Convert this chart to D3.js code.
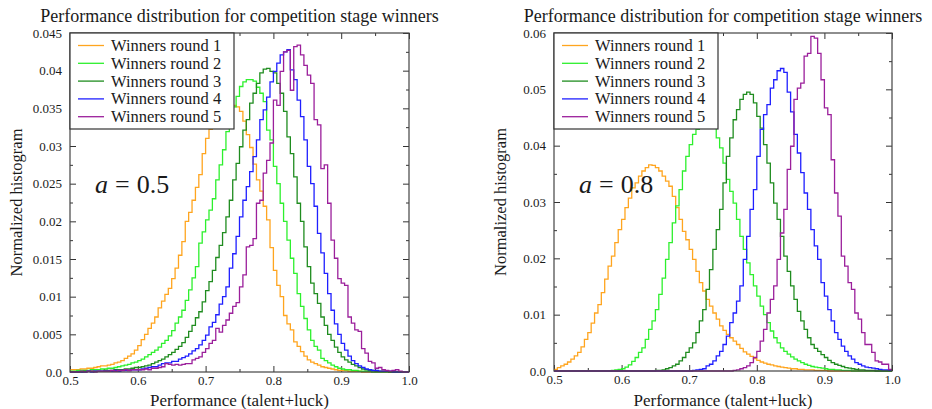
<!DOCTYPE html>
<html>
<head>
<meta charset="utf-8">
<script src="https://d3js.org/d3.v7.min.js"></script>
<style>
  body { margin: 0; background: #fff; }
  text { font-family: "Liberation Serif", "Times New Roman", serif; fill: #1a1a1a; }
</style>
</head>
<body>
<div id="my_dataviz"></div>
<script>

// ---- data (normalized histogram, 100 bins of width 0.005 from 0.5 to 1.0) ----
var seriesNames = ["Winners round 1", "Winners round 2", "Winners round 3", "Winners round 4", "Winners round 5"]
var seriesColors = ["#ffa51f", "#2df02d", "#1f8c1f", "#1f1fff", "#9b1f9b"]

var xTickValues = [0.5, 0.6, 0.7, 0.8, 0.9, 1.0]
var xTickLabels = ["0.5", "0.6", "0.7", "0.8", "0.9", "1.0"]
var yTickValuesA = [0, 0.005, 0.01, 0.015, 0.02, 0.025, 0.03, 0.035, 0.04, 0.045]
var yTickLabelsA = ["0.0", "0.005", "0.01", "0.015", "0.02", "0.025", "0.03", "0.035", "0.04", "0.045"]
var yTickValuesB = [0, 0.01, 0.02, 0.03, 0.04, 0.05, 0.06]
var yTickLabelsB = ["0.0", "0.01", "0.02", "0.03", "0.04", "0.05", "0.06"]

// a = 0.5
var a05_round1 = [
  0.0003, 0.0003, 0.0003, 0.0004, 0.0004, 0.0005, 0.0005, 0.0006, 0.0007, 0.0008,
  0.0008, 0.0009, 0.0010, 0.0012, 0.0013, 0.0015, 0.0018, 0.0021, 0.0024, 0.0029,
  0.0035, 0.0043, 0.0050, 0.0058, 0.0065, 0.0073, 0.0085, 0.0094, 0.0103, 0.0111,
  0.0124, 0.0138, 0.0155, 0.0173, 0.0200, 0.0212, 0.0228, 0.0245, 0.0262, 0.0290,
  0.0310, 0.0322, 0.0332, 0.0342, 0.0350, 0.0355, 0.0358, 0.0356, 0.0354, 0.0352,
  0.0346, 0.0333, 0.0315, 0.0298, 0.0276, 0.0255, 0.0240, 0.0220, 0.0202, 0.0165,
  0.0135, 0.0115, 0.0100, 0.0075, 0.0064, 0.0056, 0.0040, 0.0034, 0.0027, 0.0021,
  0.0016, 0.0013, 0.0011, 0.0009, 0.0007, 0.0006, 0.0005, 0.0004, 0.0003, 0.0002,
  0.0002, 0.0002, 0.0001, 0.0001, 0.0001, 0.0001, 0, 0, 0, 0,
  0, 0, 0, 0, 0, 0, 0, 0, 0, 0]
var a05_round2 = [
  0.0001, 0.0001, 0.0002, 0.0002, 0.0002, 0.0002, 0.0003, 0.0003, 0.0003, 0.0004,
  0.0004, 0.0005, 0.0005, 0.0006, 0.0007, 0.0008, 0.0009, 0.0010, 0.0012, 0.0013,
  0.0015, 0.0017, 0.0020, 0.0023, 0.0026, 0.0029, 0.0033, 0.0038, 0.0042, 0.0048,
  0.0055, 0.0065, 0.0073, 0.0082, 0.0095, 0.0109, 0.0125, 0.0140, 0.0171, 0.0186,
  0.0202, 0.0215, 0.0230, 0.0255, 0.0275, 0.0295, 0.0319, 0.0339, 0.0352, 0.0366,
  0.0379, 0.0385, 0.0388, 0.0388, 0.0386, 0.0378, 0.0370, 0.0359, 0.0321, 0.0308,
  0.0273, 0.0250, 0.0224, 0.0200, 0.0175, 0.0151, 0.0131, 0.0104, 0.0087, 0.0071,
  0.0056, 0.0042, 0.0034, 0.0029, 0.0018, 0.0015, 0.0012, 0.0009, 0.0007, 0.0005,
  0.0004, 0.0003, 0.0003, 0.0002, 0.0002, 0.0001, 0.0001, 0.0001, 0.0001, 0,
  0, 0, 0, 0, 0, 0, 0, 0, 0, 0]
var a05_round3 = [
  0, 0, 0, 0, 0.0001, 0.0001, 0.0001, 0.0001, 0.0001, 0.0001,
  0.0002, 0.0002, 0.0002, 0.0003, 0.0003, 0.0003, 0.0004, 0.0004, 0.0005, 0.0006,
  0.0006, 0.0007, 0.0008, 0.0009, 0.0011, 0.0013, 0.0015, 0.0017, 0.0020, 0.0023,
  0.0026, 0.0030, 0.0034, 0.0039, 0.0046, 0.0054, 0.0062, 0.0072, 0.0080, 0.0093,
  0.0108, 0.0120, 0.0135, 0.0152, 0.0168, 0.0185, 0.0206, 0.0228, 0.0255, 0.0277,
  0.0299, 0.0321, 0.0335, 0.0357, 0.0370, 0.0383, 0.0397, 0.0402, 0.0403, 0.0399,
  0.0397, 0.0383, 0.0370, 0.0346, 0.0312, 0.0290, 0.0259, 0.0224, 0.0200, 0.0166,
  0.0140, 0.0118, 0.0104, 0.0091, 0.0073, 0.0062, 0.0050, 0.0042, 0.0033, 0.0026,
  0.0020, 0.0016, 0.0013, 0.0010, 0.0008, 0.0006, 0.0004, 0.0003, 0.0002, 0.0002,
  0.0001, 0.0001, 0.0001, 0.0001, 0, 0, 0, 0, 0, 0]
var a05_round4 = [
  0, 0, 0, 0, 0, 0.0001, 0, 0.0001, 0.0001, 0.0001,
  0.0001, 0.0001, 0.0001, 0.0002, 0.0001, 0.0002, 0.0002, 0.0002, 0.0003, 0.0003,
  0.0003, 0.0004, 0.0005, 0.0006, 0.0007, 0.0007, 0.0009, 0.0011, 0.0012, 0.0012,
  0.0014, 0.0014, 0.0017, 0.0019, 0.0021, 0.0024, 0.0028, 0.0031, 0.0036, 0.0042,
  0.0049, 0.0060, 0.0066, 0.0076, 0.0090, 0.0100, 0.0113, 0.0138, 0.0157, 0.0180,
  0.0206, 0.0228, 0.0246, 0.0266, 0.0286, 0.0308, 0.0335, 0.0348, 0.0365, 0.0385,
  0.0399, 0.0410, 0.0421, 0.0425, 0.0428, 0.0401, 0.0388, 0.0361, 0.0339, 0.0308,
  0.0273, 0.0250, 0.0220, 0.0184, 0.0158, 0.0131, 0.0104, 0.0082, 0.0064, 0.0050,
  0.0038, 0.0029, 0.0021, 0.0015, 0.0011, 0.0008, 0.0006, 0.0004, 0.0003, 0.0002,
  0.0002, 0.0001, 0.0001, 0.0001, 0.0001, 0, 0, 0, 0, 0]
var a05_round5 = [
  0, 0, 0, 0.0001, 0, 0.0001, 0.0001, 0, 0.0001, 0.0001,
  0.0001, 0.0001, 0.0002, 0.0001, 0.0002, 0.0002, 0.0003, 0.0002, 0.0003, 0.0003,
  0.0003, 0.0003, 0.0004, 0.0003, 0.0005, 0.0005, 0.0006, 0.0007, 0.0011, 0.0010,
  0.0009, 0.0010, 0.0009, 0.0010, 0.0011, 0.0011, 0.0016, 0.0018, 0.0020, 0.0026,
  0.0031, 0.0038, 0.0042, 0.0058, 0.0053, 0.0062, 0.0069, 0.0078, 0.0087, 0.0092,
  0.0113, 0.0129, 0.0166, 0.0168, 0.0177, 0.0224, 0.0228, 0.0264, 0.0281, 0.0304,
  0.0361, 0.0354, 0.0399, 0.0425, 0.0427, 0.0374, 0.0432, 0.0434, 0.0421, 0.0407,
  0.0394, 0.0383, 0.0335, 0.0328, 0.0270, 0.0275, 0.0224, 0.0175, 0.0151, 0.0124,
  0.0118, 0.0115, 0.0073, 0.0065, 0.0056, 0.0054, 0.0031, 0.0025, 0.0014, 0.0012,
  0.0005, 0.0006, 0.0003, 0.0002, 0.0001, 0.0002, 0.0003, 0.0001, 0, 0]

// a = 0.8
var a08_round1 = [
  0.0003, 0.0006, 0.0009, 0.0012, 0.0016, 0.0021, 0.0027, 0.0033, 0.0043, 0.0056,
  0.0068, 0.0085, 0.0103, 0.0118, 0.0139, 0.0163, 0.0186, 0.0204, 0.0228, 0.0251,
  0.0269, 0.0290, 0.0307, 0.0325, 0.0334, 0.0346, 0.0355, 0.0361, 0.0366, 0.0365,
  0.0361, 0.0355, 0.0346, 0.0337, 0.0328, 0.0310, 0.0290, 0.0269, 0.0248, 0.0233,
  0.0216, 0.0198, 0.0177, 0.0157, 0.0142, 0.0127, 0.0115, 0.0103, 0.0092, 0.0080,
  0.0072, 0.0065, 0.0059, 0.0053, 0.0047, 0.0040, 0.0034, 0.0030, 0.0026, 0.0022,
  0.0019, 0.0016, 0.0014, 0.0012, 0.0011, 0.0009, 0.0008, 0.0007, 0.0006, 0.0005,
  0.0004, 0.0004, 0.0003, 0.0003, 0.0002, 0.0002, 0.0002, 0.0001, 0.0001, 0.0001,
  0.0001, 0, 0, 0, 0, 0, 0, 0, 0, 0,
  0, 0, 0, 0, 0, 0, 0, 0, 0, 0]
var a08_round2 = [
  0, 0, 0, 0, 0, 0, 0, 0, 0, 0,
  0, 0, 0, 0, 0, 0, 0, 0.0001, 0.0002, 0.0003,
  0.0004, 0.0007, 0.0011, 0.0017, 0.0024, 0.0033, 0.0041, 0.0056, 0.0074, 0.0089,
  0.0109, 0.0136, 0.0165, 0.0198, 0.0228, 0.0263, 0.0293, 0.0322, 0.0355, 0.0381,
  0.0402, 0.0420, 0.0429, 0.0438, 0.0443, 0.0441, 0.0436, 0.0431, 0.0414, 0.0396,
  0.0369, 0.0340, 0.0319, 0.0298, 0.0269, 0.0239, 0.0216, 0.0192, 0.0171, 0.0151,
  0.0133, 0.0115, 0.0100, 0.0086, 0.0071, 0.0059, 0.0050, 0.0041, 0.0035, 0.0030,
  0.0025, 0.0021, 0.0018, 0.0015, 0.0012, 0.0010, 0.0008, 0.0007, 0.0006, 0.0005,
  0.0004, 0.0003, 0.0003, 0.0002, 0.0002, 0.0001, 0.0001, 0.0001, 0, 0,
  0, 0, 0, 0, 0, 0, 0, 0, 0, 0]
var a08_round3 = [
  0, 0, 0, 0, 0, 0, 0, 0, 0, 0,
  0, 0, 0, 0, 0, 0, 0, 0, 0, 0,
  0, 0, 0, 0, 0, 0, 0, 0, 0, 0,
  0.0001, 0.0001, 0.0002, 0.0004, 0.0006, 0.0009, 0.0012, 0.0018, 0.0024, 0.0033,
  0.0041, 0.0050, 0.0068, 0.0089, 0.0109, 0.0145, 0.0180, 0.0216, 0.0251, 0.0287,
  0.0334, 0.0381, 0.0414, 0.0446, 0.0464, 0.0482, 0.0491, 0.0495, 0.0491, 0.0476,
  0.0452, 0.0431, 0.0402, 0.0369, 0.0334, 0.0298, 0.0269, 0.0239, 0.0204, 0.0177,
  0.0151, 0.0127, 0.0106, 0.0089, 0.0074, 0.0059, 0.0047, 0.0040, 0.0035, 0.0029,
  0.0024, 0.0019, 0.0015, 0.0012, 0.0010, 0.0008, 0.0006, 0.0005, 0.0004, 0.0003,
  0.0002, 0.0002, 0.0001, 0.0001, 0.0001, 0, 0, 0, 0, 0]
var a08_round4 = [
  0, 0, 0, 0, 0, 0, 0, 0, 0, 0,
  0, 0, 0, 0, 0, 0, 0, 0, 0, 0,
  0, 0, 0, 0, 0, 0, 0, 0, 0, 0,
  0, 0, 0, 0, 0, 0, 0, 0, 0, 0,
  0, 0.0001, 0.0002, 0.0003, 0.0004, 0.0009, 0.0012, 0.0018, 0.0027, 0.0035,
  0.0047, 0.0062, 0.0086, 0.0103, 0.0124, 0.0151, 0.0198, 0.0239, 0.0287, 0.0322,
  0.0381, 0.0429, 0.0455, 0.0473, 0.0502, 0.0517, 0.0533, 0.0537, 0.0530, 0.0495,
  0.0460, 0.0420, 0.0387, 0.0352, 0.0316, 0.0287, 0.0251, 0.0222, 0.0198, 0.0157,
  0.0133, 0.0109, 0.0089, 0.0068, 0.0056, 0.0044, 0.0035, 0.0027, 0.0021, 0.0015,
  0.0012, 0.0009, 0.0007, 0.0006, 0.0005, 0.0004, 0.0003, 0.0002, 0.0002, 0.0001]
var a08_round5 = [
  0, 0, 0, 0, 0, 0, 0, 0, 0, 0,
  0, 0, 0, 0, 0, 0, 0, 0, 0, 0,
  0, 0, 0, 0, 0, 0, 0, 0, 0, 0,
  0, 0, 0, 0, 0, 0, 0, 0, 0, 0,
  0, 0, 0, 0, 0, 0, 0, 0, 0, 0,
  0, 0, 0, 0.0001, 0.0002, 0.0004, 0.0006, 0.0009, 0.0015, 0.0024,
  0.0035, 0.0053, 0.0074, 0.0103, 0.0127, 0.0151, 0.0198, 0.0245, 0.0287, 0.0358,
  0.0399, 0.0482, 0.0502, 0.0511, 0.0559, 0.0564, 0.0594, 0.0591, 0.0564, 0.0517,
  0.0467, 0.0455, 0.0375, 0.0316, 0.0275, 0.0204, 0.0186, 0.0157, 0.0145, 0.0103,
  0.0092, 0.0068, 0.0047, 0.0047, 0.0033, 0.0018, 0.0016, 0.0012, 0.0012, 0.0003]

// bin left edges
var binLefts = d3.range(100).map(function(i) { return 0.5 + i * 0.005 })

// ---- layout ----
var width = 932
    height = 409

var svg = d3.select("#my_dataviz")
  .append("svg")
    .attr("width", width)
    .attr("height", height)

var panels = [
  { left: 70, top: 33, size: 339, yMax: 0.045, yMajor: yTickValuesA, yLabels: yTickLabelsA, yMinorStep: 0.0025,
    series: [a05_round1, a05_round2, a05_round3, a05_round4, a05_round5], note: "0.5" },
  { left: 554, top: 33, size: 338, yMax: 0.06, yMajor: yTickValuesB, yLabels: yTickLabelsB, yMinorStep: 0.005,
    series: [a08_round1, a08_round2, a08_round3, a08_round4, a08_round5], note: "0.8" }
]

panels.forEach(function(p, pi) {
  var g = svg.append("g").attr("transform", "translate(" + p.left + "," + p.top + ")")

  var x = d3.scaleLinear().domain([0.5, 1.0]).range([0, p.size])
  var y = d3.scaleLinear().domain([0, p.yMax]).range([p.size, 0])

  // clip for the histogram lines
  g.append("clipPath").attr("id", "clip" + pi)
    .append("rect").attr("x", 0).attr("y", -1).attr("width", p.size).attr("height", p.size + 2)

  // minor and major ticks, pointing inwards on all four sides
  var xMinor = d3.range(0.55, 1.0, 0.1)
  var yMinor = d3.range(p.yMinorStep, p.yMax, p.yMinorStep * 2)

  function ticks(axis, scale, values, len, labels, pad) {
    var a = axis(scale).tickValues(values).tickSizeInner(-len).tickSizeOuter(0)
    if (labels) a.tickFormat(function(d, i) { return labels[i] }).tickPadding(pad)
    else a.tickFormat("")
    return a
  }

  var axes = [
    { ax: d3.axisBottom, s: x, t: "translate(0," + p.size + ")", major: xTickValues, minor: xMinor, labels: xTickLabels, pad: 4 },
    { ax: d3.axisTop, s: x, t: null, major: xTickValues, minor: xMinor, labels: null },
    { ax: d3.axisLeft, s: y, t: null, major: p.yMajor, minor: yMinor, labels: p.yLabels, pad: 8 },
    { ax: d3.axisRight, s: y, t: "translate(" + p.size + ",0)", major: p.yMajor, minor: yMinor, labels: null }
  ]
  axes.forEach(function(a) {
    var gm = g.append("g").attr("transform", a.t).call(ticks(a.ax, a.s, a.minor, 3, null))
    var gM = g.append("g").attr("transform", a.t).call(ticks(a.ax, a.s, a.major, 6, a.labels, a.pad))
    ;[gm, gM].forEach(function(sel) {
      sel.select(".domain").remove()
      sel.selectAll("line").attr("stroke", "#333").attr("stroke-width", 1)
      sel.selectAll("text").style("font-size", "13px").attr("fill", "#1a1a1a")
        .style("font-family", "'Liberation Serif', serif")
    })
  })

  // histogram outlines
  var line = d3.line()
    .x(function(d) { return x(d[0]) })
    .y(function(d) { return y(d[1]) })
    .curve(d3.curveStepAfter)

  p.series.forEach(function(vals, si) {
    var pts = [[0.5, 0]]
    vals.forEach(function(v, i) { pts.push([binLefts[i], v]) })
    pts.push([1.0, vals[vals.length - 1]])
    pts.push([1.0, 0])
    g.append("path")
      .attr("d", line(pts))
      .attr("fill", "none")
      .attr("stroke", seriesColors[si])
      .attr("stroke-width", 1.3)
      .attr("clip-path", "url(#clip" + pi + ")")
  })

  // frame
  g.append("rect")
    .attr("width", p.size).attr("height", p.size)
    .attr("fill", "none").attr("stroke", "#444").attr("stroke-width", 1.2)

  // legend
  var lg = g.append("g")
  lg.append("rect").attr("x", 0).attr("y", 0).attr("width", 164).attr("height", 96)
    .attr("fill", "white").attr("stroke", "#333").attr("stroke-width", 1.2)
  seriesNames.forEach(function(name, si) {
    var yy = 12.5 + si * 17.8
    lg.append("line").attr("x1", 8).attr("x2", 34).attr("y1", yy).attr("y2", yy)
      .attr("stroke", seriesColors[si]).attr("stroke-width", 1.3)
    lg.append("text").attr("x", 41).attr("y", yy).attr("dy", "0.33em")
      .style("font-size", "16.5px").text(name)
  })

  // a = ... annotation
  var note = g.append("text").attr("x", 25).attr("y", 160).style("font-size", "26px")
  note.append("tspan").style("font-style", "italic").text("a")
  note.append("tspan").attr("dx", 7).text("=")
  note.append("tspan").attr("dx", 7).text(p.note)

  // titles and axis labels
  svg.append("text")
    .attr("x", p.left + p.size / 2).attr("y", 22)
    .attr("text-anchor", "middle").style("font-size", "18px")
    .text("Performance distribution for competition stage winners")

  svg.append("text")
    .attr("x", p.left + p.size / 2).attr("y", 406)
    .attr("text-anchor", "middle").style("font-size", "17px")
    .text("Performance (talent+luck)")

  svg.append("text")
    .attr("transform", "translate(" + (p.left - 48) + "," + (p.top + p.size / 2) + ") rotate(-90)")
    .attr("text-anchor", "middle").style("font-size", "16.5px")
    .text("Normalized histogram")
})

</script>
</body>
</html>
